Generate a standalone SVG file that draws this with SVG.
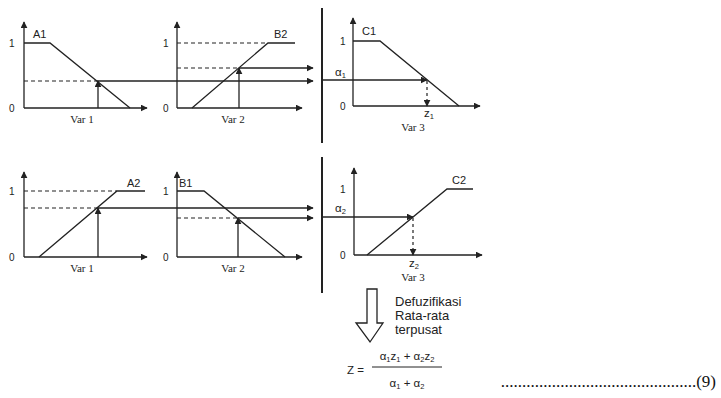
<svg xmlns="http://www.w3.org/2000/svg" width="721" height="398" viewBox="0 0 721 398">
<defs>
<marker id="ah" viewBox="0 0 10 10" refX="9" refY="5" markerWidth="7" markerHeight="7" markerUnits="userSpaceOnUse" orient="auto">
<path d="M0,0 L10,5 L0,10 z" fill="#222"/>
</marker>
</defs>
<style>
.ln{stroke:#222;stroke-width:1.3;fill:none}
.ax{stroke:#222;stroke-width:1.3;fill:none;marker-end:url(#ah)}
.ar{stroke:#222;stroke-width:1.3;fill:none;marker-end:url(#ah)}
.da{stroke:#222;stroke-width:1.2;fill:none;stroke-dasharray:4 3}
.dar{stroke:#222;stroke-width:1.2;fill:none;stroke-dasharray:3 3;marker-end:url(#ah)}
.sep{stroke:#222;stroke-width:2;fill:none}
.s{font-family:"Liberation Sans",Arial,sans-serif;font-size:10px;fill:#222}
.lb{font-family:"Liberation Sans",Arial,sans-serif;font-size:11px;fill:#222}
.v{font-family:"Liberation Serif","Times New Roman",serif;font-size:11px;fill:#222;text-anchor:middle}
.t{font-family:"Liberation Sans",Arial,sans-serif;font-size:13px;fill:#222}
.f{font-family:"Liberation Sans",Arial,sans-serif;font-size:11.5px;fill:#222}
.sub{font-size:7.5px}
</style>
<rect width="721" height="398" fill="#fff"/>

<g id="chartA1">
<line class="ax" x1="24" y1="108" x2="24" y2="22"/>
<line class="ax" x1="24" y1="108" x2="147" y2="108"/>
<text class="s" x="9" y="47">1</text>
<text class="s" x="9" y="112">0</text>
<polyline class="ln" points="24,43 50,43 130,108"/>
<text class="lb" x="33" y="38">A1</text>
<line class="da" x1="24" y1="81" x2="97" y2="81"/>
<text class="v" x="82" y="123">Var 1</text>
</g>

<g id="chartB2">
<line class="ax" x1="177" y1="108" x2="177" y2="22"/>
<line class="ax" x1="177" y1="108" x2="302" y2="108"/>
<text class="s" x="163" y="47">1</text>
<text class="s" x="163" y="112">0</text>
<line class="da" x1="177" y1="43" x2="268" y2="43"/>
<polyline class="ln" points="192,108 268,43 295,43"/>
<text class="lb" x="274" y="38">B2</text>
<line class="da" x1="177" y1="68" x2="239" y2="68"/>
<text class="v" x="233" y="123">Var 2</text>
</g>

<g id="chartC1">
<line class="ax" x1="353" y1="106" x2="353" y2="18"/>
<line class="ax" x1="353" y1="106" x2="480" y2="106"/>
<text class="s" x="340" y="45">1</text>
<text class="s" x="340" y="110">0</text>
<polyline class="ln" points="353,41 380,41 459,106"/>
<text class="lb" x="362" y="35">C1</text>
<text class="f" x="335" y="76">α<tspan class="sub" dy="2">1</tspan></text>
<text class="f" x="424" y="117">z<tspan class="sub" dy="2">1</tspan></text>
<text class="v" x="413" y="131">Var 3</text>
</g>

<g id="chartA2">
<line class="ax" x1="24" y1="257" x2="24" y2="172"/>
<line class="ax" x1="24" y1="257" x2="147" y2="257"/>
<text class="s" x="9" y="195">1</text>
<text class="s" x="9" y="261">0</text>
<line class="da" x1="24" y1="191" x2="117" y2="191"/>
<polyline class="ln" points="39,257 117,191 145,191"/>
<text class="lb" x="127" y="187">A2</text>
<line class="da" x1="24" y1="208" x2="97" y2="208"/>
<text class="v" x="82" y="272">Var 1</text>
</g>

<g id="chartB1">
<line class="ax" x1="177" y1="257" x2="177" y2="172"/>
<line class="ax" x1="177" y1="257" x2="302" y2="257"/>
<text class="s" x="163" y="195">1</text>
<text class="s" x="163" y="261">0</text>
<polyline class="ln" points="177,191 204,191 285,257"/>
<text class="lb" x="179" y="187">B1</text>
<line class="da" x1="177" y1="218" x2="238" y2="218"/>
<text class="v" x="233" y="272">Var 2</text>
</g>

<g id="chartC2">
<line class="ax" x1="354" y1="255" x2="354" y2="168"/>
<line class="ax" x1="354" y1="255" x2="482" y2="255"/>
<text class="s" x="340" y="193">1</text>
<text class="s" x="340" y="259">0</text>
<polyline class="ln" points="367,255 447,189 473,189"/>
<text class="lb" x="452" y="184">C2</text>
<text class="f" x="335" y="212">α<tspan class="sub" dy="2">2</tspan></text>
<text class="f" x="409" y="267">z<tspan class="sub" dy="2">2</tspan></text>
<text class="v" x="413" y="281">Var 3</text>
</g>

<g id="separator">
<line class="sep" x1="322" y1="8" x2="322" y2="143"/>
<line class="sep" x1="322" y1="157" x2="322" y2="293"/>
</g>

<g id="connectors">
<line class="ar" x1="98" y1="108" x2="98" y2="81"/>
<line class="ar" x1="97" y1="81" x2="313" y2="81"/>
<line class="ar" x1="239" y1="108" x2="239" y2="68"/>
<line class="ar" x1="239" y1="68" x2="313" y2="68"/>
<line class="ar" x1="323" y1="80" x2="427" y2="80"/>
<line class="dar" x1="427" y1="81" x2="427" y2="106"/>
<line class="ar" x1="98" y1="257" x2="98" y2="208"/>
<line class="ar" x1="97" y1="208" x2="313" y2="208"/>
<line class="ar" x1="238" y1="257" x2="238" y2="218"/>
<line class="ar" x1="238" y1="218" x2="313" y2="218"/>
<line class="ar" x1="323" y1="217" x2="413" y2="217"/>
<line class="dar" x1="413" y1="218" x2="413" y2="255"/>
</g>

<g id="defuzz">
<polygon points="367,289 377,289 377,323 383,323 370,342 356,323 367,323" fill="#fff" stroke="#222" stroke-width="1.3"/>
<text class="t" x="395" y="306">Defuzifikasi</text>
<text class="t" x="395" y="320">Rata-rata</text>
<text class="t" x="395" y="334">terpusat</text>
</g>

<g id="formula">
<text class="f" x="347" y="374">Z =</text>
<text class="f" x="407" y="360" text-anchor="middle">α<tspan class="sub" dy="2">1</tspan><tspan dy="-2">z</tspan><tspan class="sub" dy="2">1</tspan><tspan dy="-2"> + α</tspan><tspan class="sub" dy="2">2</tspan><tspan dy="-2">z</tspan><tspan class="sub" dy="2">2</tspan></text>
<line x1="372" y1="367" x2="442" y2="367" stroke="#222" stroke-width="1"/>
<text class="f" x="407" y="387" text-anchor="middle">α<tspan class="sub" dy="2">1</tspan><tspan dy="-2"> + α</tspan><tspan class="sub" dy="2">2</tspan></text>
<text x="716" y="387" text-anchor="end" font-family="'Liberation Serif','Times New Roman',serif" font-size="17" fill="#111">..............................................(9)</text>
</g>
</svg>
